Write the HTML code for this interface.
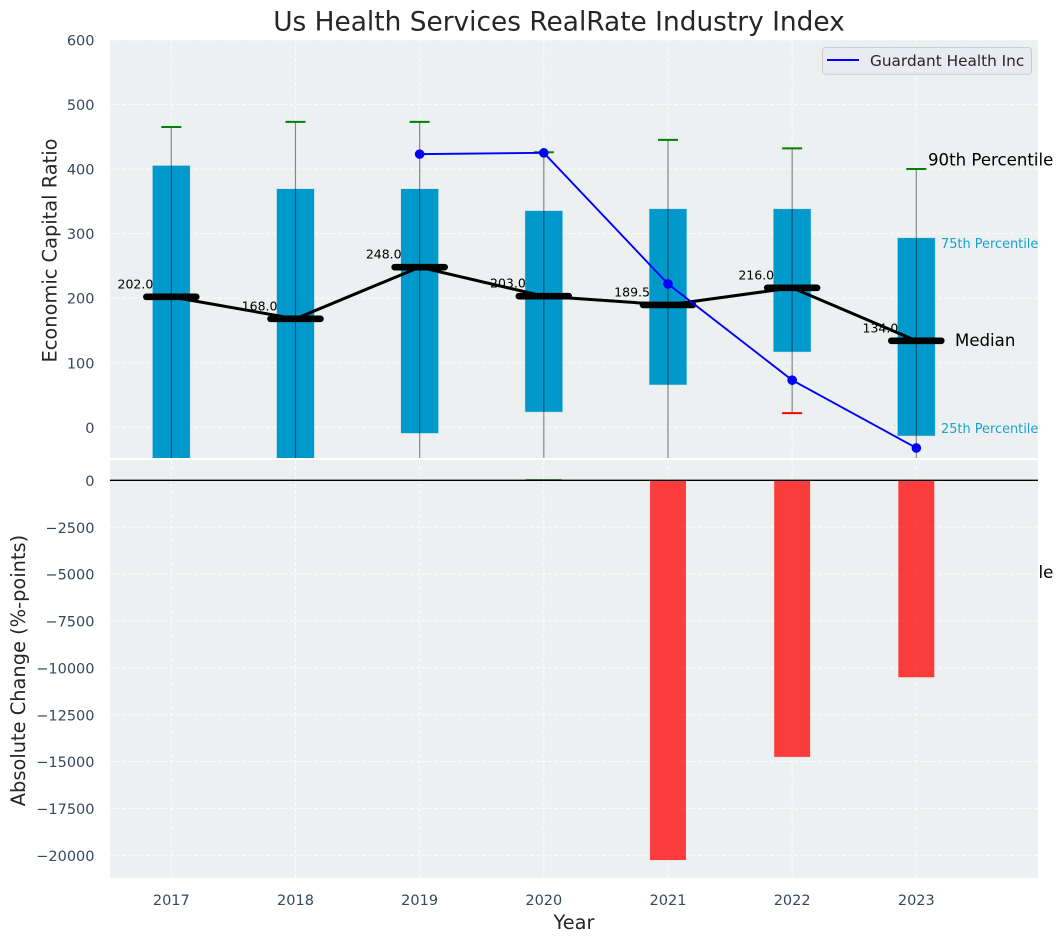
<!DOCTYPE html>
<html>
<head>
<meta charset="utf-8">
<title>Us Health Services RealRate Industry Index</title>
<style>
html,body{margin:0;padding:0;background:#fff;width:1063px;height:942px;overflow:hidden}
svg{display:block;font-family:"DejaVu Sans","Liberation Sans",sans-serif}
</style>
</head>
<body>
<svg id="chart" xmlns="http://www.w3.org/2000/svg" width="1063" height="942" viewBox="0 0 1063 942">
  <defs>
    <clipPath id="clip-top"><rect x="110" y="39.7" width="928" height="418.3"/></clipPath>
    <clipPath id="clip-bottom"><rect x="110" y="460" width="928" height="417.7"/></clipPath>
  </defs>
  <rect x="0" y="0" width="1063" height="942" fill="#ffffff"/>
  <text x="559" y="30.5" text-anchor="middle" font-size="26.4" fill="#262626">Us Health Services RealRate Industry Index</text>
  <rect x="110" y="39.7" width="928" height="418.3" fill="#ecf0f1"/>
  <g id="top-grid"></g>
  <text id="label-p10" x="928" fill="#000000" font-size="16.6">10th Percentile</text>
  <rect x="110" y="460" width="928" height="417.7" fill="#ecf0f1"/>
  <rect x="110" y="458" width="928" height="2" fill="#ffffff"/>
  <g id="bottom-grid"></g>
  <g id="top-marks" clip-path="url(#clip-top)"></g>
  <g id="bottom-marks" clip-path="url(#clip-bottom)"></g>
  <g id="overlay"></g>
  <g id="axes-labels"></g>
  <text transform="translate(56.7,250.5) rotate(-90)" text-anchor="middle" font-size="19.4" fill="#262626">Economic Capital Ratio</text>
  <text transform="translate(25,670.5) rotate(-90)" text-anchor="middle" font-size="19.4" fill="#262626">Absolute Change (%-points)</text>
  <text x="574" y="929" text-anchor="middle" font-size="19.4" fill="#262626">Year</text>
  <g>
    <rect x="822.5" y="47.5" width="209" height="26.8" rx="3" fill="#eaeaf2" stroke="#cccccc" stroke-width="1"/>
    <line x1="827" x2="859" y1="60" y2="60" stroke="#0000ff" stroke-width="2"/>
    <text x="870" y="66" font-size="15.3" fill="#262626">Guardant Health Inc</text>
  </g>
</svg>
<script>
var years = [2017, 2018, 2019, 2020, 2021, 2022, 2023];
var p90 = [465, 473, 473, 426, 445, 432, 400];
var p75 = [405, 369, 369, 335, 338, 338, 293];
var median = [202, 168, 248, 203, 189.5, 216, 134];
var p25 = [-60, -60, -9, 24, 66, 117, -13];
var p10 = [-110, -110, -110, -110, -110, 22, -238];
var companyValues = [null, null, 423, 425, 222, 73, -32];
var changeValues = [0, 0, 0, 60, -20250, -14750, -10500];
var topTicks = [600, 500, 400, 300, 200, 100, 0];
var bottomTicks = [0, -2500, -5000, -7500, -10000, -12500, -15000, -17500, -20000];

var NS = 'http://www.w3.org/2000/svg';
function xScale(v) { return 171.3 + 124.17 * (v - 2017); }
function yTop(v) { return 427.3 - 0.6458 * v; }
function yBottom(v) { return 480.3 - 0.01875 * v; }
function make(parent, tag, attrs, txt) {
  var el = document.createElementNS(NS, tag);
  for (var k in attrs) { el.setAttribute(k, attrs[k]); }
  if (txt !== undefined) { el.textContent = txt; }
  parent.appendChild(el);
  return el;
}
function tickText(v) { return String(v).replace('-', '\u2212'); }

var topGrid = document.getElementById('top-grid');
var bottomGrid = document.getElementById('bottom-grid');
var topMarks = document.getElementById('top-marks');
var bottomMarks = document.getElementById('bottom-marks');
var overlay = document.getElementById('overlay');
var axesLabels = document.getElementById('axes-labels');
var GRID = { stroke: '#ffffff', 'stroke-width': 1, 'stroke-dasharray': '4 2', opacity: 0.8 };
function gridAttrs(x1, x2, y1, y2) {
  return { x1: x1, x2: x2, y1: y1, y2: y2, stroke: GRID.stroke, 'stroke-width': GRID['stroke-width'], 'stroke-dasharray': GRID['stroke-dasharray'], opacity: GRID.opacity };
}

topTicks.forEach(function (t) {
  var y = yTop(t);
  var g = make(topGrid, 'line', gridAttrs(110, 1038, y, y));
  
  
  var lab = make(axesLabels, 'text', { x: 94.5, y: y + 5.6, 'text-anchor': 'end', 'font-size': 14.5, fill: '#34495e' }, tickText(t));
  
  
});
bottomTicks.forEach(function (t) {
  var y = yBottom(t);
  var g = make(bottomGrid, 'line', gridAttrs(110, 1038, y, y));
  
  
  var lab = make(axesLabels, 'text', { x: 94.5, y: y + 5.6, 'text-anchor': 'end', 'font-size': 14.5, fill: '#34495e' }, tickText(t));
  
  
});
years.forEach(function (yr) {
  var x = xScale(yr);
  var g1 = make(topGrid, 'line', gridAttrs(x, x, 39.7, 458));
  
  
  var g2 = make(bottomGrid, 'line', gridAttrs(x, x, 460, 877.7));
  
  
  var lab = make(axesLabels, 'text', { x: x, y: 905, 'text-anchor': 'middle', 'font-size': 14.5, fill: '#34495e' }, String(yr));
  
  
});

var BOX_W = 37.2, BAR_W = 35.8, CAP = 10, MED = 25;

years.forEach(function (yr, i) {
  var x = xScale(yr);
  var box = make(topMarks, 'rect', { x: x - BOX_W / 2, y: yTop(p75[i]), width: BOX_W, height: yTop(p25[i]) - yTop(p75[i]), fill: '#0099cc', stroke: '#0099cc', 'stroke-opacity': 0.2, 'stroke-width': 1 });
  
  
  var wh = make(topMarks, 'line', { x1: x, x2: x, y1: yTop(p90[i]), y2: yTop(p10[i]), stroke: '#000000', 'stroke-opacity': 0.45, 'stroke-width': 1.2 });
  
  
  var hi = make(topMarks, 'line', { x1: x - CAP, x2: x + CAP, y1: yTop(p90[i]), y2: yTop(p90[i]), stroke: '#008000', 'stroke-width': 2 });
  
  
  var lo = make(topMarks, 'line', { x1: x - CAP, x2: x + CAP, y1: yTop(p10[i]), y2: yTop(p10[i]), stroke: '#ff0000', 'stroke-width': 2 });
  
  
  var v = changeValues[i];
  if (v !== 0) {
    var bar = make(bottomMarks, 'rect', { x: x - BAR_W / 2, y: Math.min(yBottom(v), yBottom(0)), width: BAR_W, height: Math.max(Math.abs(yBottom(v) - yBottom(0)), 0.5), fill: v < 0 ? '#ff0000' : '#008000', 'fill-opacity': 0.75, stroke: v < 0 ? '#ff0000' : '#008000', 'stroke-opacity': 0.1, 'stroke-width': 1 });
    
    
  }
});

var zero = make(bottomMarks, 'line', { x1: 110, x2: 1038, y1: yBottom(0), y2: yBottom(0), stroke: '#000000', 'stroke-width': 1.3 });



var medianPts = years.map(function (yr, i) { return xScale(yr) + ',' + yTop(median[i]); }).join(' ');
var medLine = make(topMarks, 'polyline', { points: medianPts, fill: 'none', stroke: '#000000', 'stroke-width': 3 });



years.forEach(function (yr, i) {
  var x = xScale(yr), y = yTop(median[i]);
  var m = make(topMarks, 'line', { x1: x - MED, x2: x + MED, y1: y, y2: y, stroke: '#000000', 'stroke-width': 6.6, 'stroke-linecap': 'round' });
  
  
});

var companyPts = [];
years.forEach(function (yr, i) {
  if (companyValues[i] !== null) { companyPts.push(xScale(yr) + ',' + yTop(companyValues[i])); }
});
var compLine = make(topMarks, 'polyline', { points: companyPts.join(' '), fill: 'none', stroke: '#0000ff', 'stroke-width': 1.9 });


years.forEach(function (yr, i) {
  if (companyValues[i] === null) { return; }
  var c = make(topMarks, 'circle', { cx: xScale(yr), cy: yTop(companyValues[i]), r: 4.8, fill: '#0000ff' });
  
  
});

years.forEach(function (yr, i) {
  var t = make(overlay, 'text', { x: xScale(yr) - 18, y: yTop(median[i]) - 8.5, 'text-anchor': 'end', 'font-size': 12.5, fill: '#000000' }, median[i].toFixed(1));
  
  
});

var last = years.length - 1;
document.getElementById('label-p10').setAttribute('y', yTop(p10[last]) - 3);
var a90 = make(overlay, 'text', { x: 928, y: yTop(p90[last]) - 3.5, 'font-size': 16.6, fill: '#000000' }, '90th Percentile');


var a75 = make(overlay, 'text', { x: 941, y: yTop(p75[last]) + 10, 'font-size': 12.9, fill: '#0099cc', 'fill-opacity': 0.9 }, '75th Percentile');


var aMed = make(overlay, 'text', { x: 955, y: yTop(median[last]) + 5, 'font-size': 16.6, fill: '#000000' }, 'Median');


var a25 = make(overlay, 'text', { x: 941, y: yTop(p25[last]) - 2.5, 'font-size': 12.9, fill: '#0099cc', 'fill-opacity': 0.9 }, '25th Percentile');


</script>
</body>
</html>
